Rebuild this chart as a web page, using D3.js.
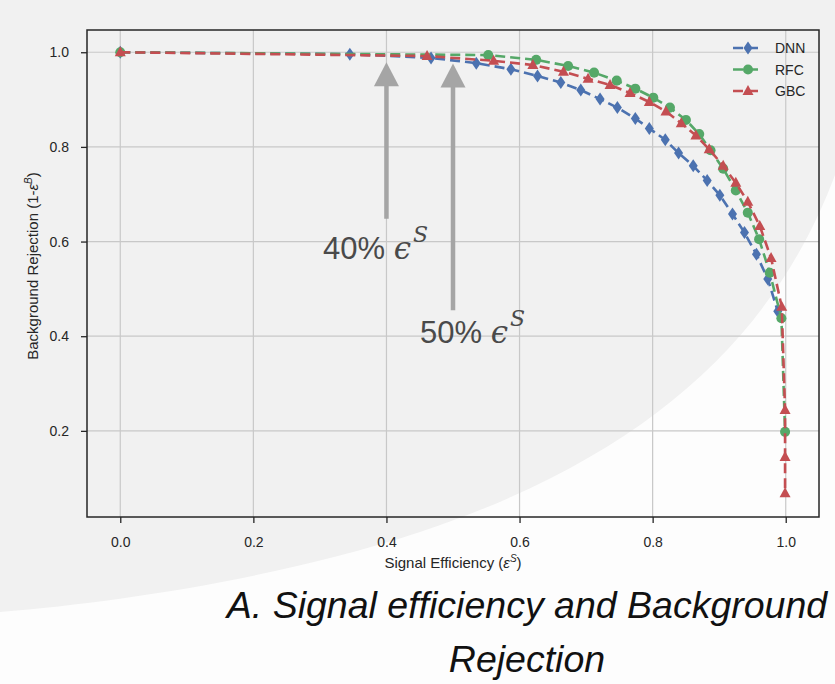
<!DOCTYPE html>
<html><head><meta charset="utf-8">
<script src="https://cdn.jsdelivr.net/npm/d3@7/dist/d3.min.js"></script>
<style>body{margin:0;background:#fff;} svg{display:block;}</style>
</head><body><svg id="c" width="835" height="684"></svg>
<script>
// ---- data ----
const xTicks = [0, 0.2, 0.4, 0.6, 0.8, 1.0];
const yTicks = [0.2, 0.4, 0.6, 0.8, 1.0];
const xTickLabels = ["0.0", "0.2", "0.4", "0.6", "0.8", "1.0"];
const yTickLabels = ["0.2", "0.4", "0.6", "0.8", "1.0"];
const seriesNames = ["DNN", "RFC", "GBC"];
const dnnX = [0, 0.345, 0.467, 0.535, 0.587, 0.627, 0.662, 0.692, 0.721, 0.747, 0.774, 0.795, 0.819, 0.839, 0.861, 0.882, 0.901, 0.920, 0.938, 0.956, 0.973, 0.988];
const dnnY = [1.0, 0.996, 0.988, 0.977, 0.964, 0.950, 0.936, 0.920, 0.901, 0.883, 0.860, 0.839, 0.815, 0.787, 0.760, 0.729, 0.698, 0.658, 0.619, 0.573, 0.521, 0.453];
const rfcX = [0, 0.553, 0.625, 0.673, 0.712, 0.746, 0.774, 0.801, 0.826, 0.850, 0.870, 0.887, 0.906, 0.925, 0.943, 0.960, 0.976, 0.9935, 0.999];
const rfcY = [1.0, 0.994, 0.984, 0.971, 0.957, 0.940, 0.923, 0.904, 0.883, 0.857, 0.827, 0.793, 0.754, 0.708, 0.661, 0.605, 0.534, 0.438, 0.198];
const gbcX = [0, 0.461, 0.561, 0.620, 0.666, 0.703, 0.736, 0.766, 0.795, 0.820, 0.843, 0.865, 0.885, 0.906, 0.925, 0.943, 0.961, 0.978, 0.994, 0.999, 0.999, 0.999];
const gbcY = [1.0, 0.992, 0.982, 0.973, 0.959, 0.944, 0.931, 0.914, 0.895, 0.875, 0.850, 0.824, 0.795, 0.760, 0.724, 0.684, 0.633, 0.565, 0.462, 0.244, 0.145, 0.068];
const arrowX = [0.4, 0.5];
const arrowTail = [0.648, 0.455];
const arrowTip = [0.979, 0.976];
const arrowLabels = ["40%", "50%"];

const colors = {DNN: "#4C72B0", RFC: "#55A868", GBC: "#C44E52"};
const svg = d3.select("#c");

// background (slide)
svg.append("rect").attr("width", 835).attr("height", 684).attr("fill", "#f1f1f1");
svg.append("path").attr("d", "M835,175 C775,335 650,455 420,532 C280,578 120,602 0,612 L0,684 L835,684 Z").attr("fill", "#fdfdfd");

const x = d3.scaleLinear().domain([-0.05, 1.05]).range([87, 819]);
const y = d3.scaleLinear().domain([0.018, 1.047]).range([517, 30]);

const font = "'Liberation Sans', Arial, Helvetica, sans-serif";

// grid
const g = svg.append("g");
g.selectAll(".gx").data(xTicks).join("line")
  .attr("x1", d => x(d)).attr("x2", d => x(d)).attr("y1", 30).attr("y2", 517)
  .attr("stroke", "#c8c8c8").attr("stroke-width", 1.2);
g.selectAll(".gy").data(yTicks).join("line")
  .attr("y1", d => y(d)).attr("y2", d => y(d)).attr("x1", 87).attr("x2", 819)
  .attr("stroke", "#c8c8c8").attr("stroke-width", 1.2);

// axes
const xAxis = d3.axisBottom(x).tickValues(xTicks).tickFormat((d, i) => xTickLabels[i]).tickSize(6).tickPadding(14);
const yAxis = d3.axisLeft(y).tickValues(yTicks).tickFormat((d, i) => yTickLabels[i]).tickSize(6).tickPadding(12);
const ax = svg.append("g").attr("transform", "translate(0,517)").call(xAxis);
const ay = svg.append("g").attr("transform", "translate(87,0)").call(yAxis);
[ax, ay].forEach(a => {
  a.select(".domain").remove();
  a.selectAll(".tick line").attr("stroke", "#262626").attr("stroke-width", 1.3);
  a.selectAll(".tick text").attr("fill", "#262626").style("font-family", font).style("font-size", "14px");
});

// frame
svg.append("rect").attr("x", 87).attr("y", 30).attr("width", 732).attr("height", 487)
  .attr("fill", "none").attr("stroke", "#262626").attr("stroke-width", 1.5);

// arrows
const arrowG = svg.append("g");
arrowX.forEach((ax_, i) => {
  const cx = x(ax_), tip = y(arrowTip[i]), tail = y(arrowTail[i]);
  arrowG.append("line").attr("x1", cx).attr("x2", cx).attr("y1", tail).attr("y2", tip + 22)
    .attr("stroke", "#a5a5a5").attr("stroke-width", 4.5);
  arrowG.append("path").attr("d", `M${cx},${tip} L${cx + 12.5},${tip + 24} L${cx - 12.5},${tip + 24} Z`).attr("fill", "#a5a5a5");
});

// arrow labels
const lab = [{t: arrowLabels[0], x: 323, y: 259}, {t: arrowLabels[1], x: 420, y: 343}];
lab.forEach(l => {
  const t = svg.append("text").attr("x", l.x).attr("y", l.y).attr("fill", "#4a4a4a")
    .style("font-family", font).style("font-size", "31px");
  t.append("tspan").text(l.t + " ");
  t.append("tspan").text("\u03F5").style("font-family", "'DejaVu Serif', serif").style("font-style", "italic");
  t.append("tspan").text("S").attr("dy", -17).attr("dx", 2).style("font-family", "'DejaVu Serif', serif").style("font-style", "italic").style("font-size", "22px");
});

// series
const series = [
  {name: "DNN", xs: dnnX, ys: dnnY, marker: "diamond"},
  {name: "RFC", xs: rfcX, ys: rfcY, marker: "circle"},
  {name: "GBC", xs: gbcX, ys: gbcY, marker: "triangle"}
];
function markerPath(m) {
  if (m === "diamond") return "M0,-6.5 L4.5,0 L0,6.5 L-4.5,0 Z";
  if (m === "triangle") return "M0,-6 L5.5,4 L-5.5,4 Z";
  return d3.symbol(d3.symbolCircle, 80)();
}
const line = d3.line().x(d => x(d[0])).y(d => y(d[1]));
series.forEach(s => {
  const pts = s.xs.map((v, i) => [v, s.ys[i]]);
  const gs = svg.append("g");
  gs.append("path").attr("d", line(pts)).attr("fill", "none").attr("stroke", colors[s.name])
    .attr("stroke-width", 2.6).attr("stroke-dasharray", "10,5");
  gs.selectAll("path.m").data(pts).join("path").attr("class", "m")
    .attr("d", markerPath(s.marker)).attr("transform", d => `translate(${x(d[0])},${y(d[1])})`)
    .attr("fill", colors[s.name]);
});

// legend
const lg = svg.append("g");
series.forEach((s, i) => {
  const yy = 48 + i * 21.5;
  lg.append("line").attr("x1", 733).attr("x2", 763).attr("y1", yy).attr("y2", yy)
    .attr("stroke", colors[s.name]).attr("stroke-width", 2.6).attr("stroke-dasharray", "10,5");
  lg.append("path").attr("d", markerPath(s.marker)).attr("transform", `translate(748,${yy})`).attr("fill", colors[s.name]);
  lg.append("text").attr("x", 775).attr("y", yy + 5).text(s.name).attr("fill", "#262626")
    .style("font-family", font).style("font-size", "14px");
});

// axis labels
const xl = svg.append("text").attr("x", x(0.5)).attr("y", 568).attr("text-anchor", "middle")
  .attr("fill", "#262626").style("font-family", font).style("font-size", "15px");
xl.append("tspan").text("Signal Efficiency (");
xl.append("tspan").text("\u03B5").style("font-style", "italic");
xl.append("tspan").text("S").attr("dy", -6).style("font-size", "10px").style("font-style", "italic");
xl.append("tspan").text(")").attr("dy", 6);

const yl = svg.append("text").attr("transform", "translate(38,266) rotate(-90)").attr("text-anchor", "middle")
  .attr("fill", "#262626").style("font-family", font).style("font-size", "15px");
yl.append("tspan").text("Background Rejection (1-");
yl.append("tspan").text("\u03B5").style("font-style", "italic");
yl.append("tspan").text("B").attr("dy", -6).style("font-size", "10px").style("font-style", "italic");
yl.append("tspan").text(")").attr("dy", 6);

// caption
const cap = ["A. Signal efficiency and Background", "Rejection"];
svg.selectAll("text.cap").data(cap).join("text").attr("class", "cap")
  .attr("x", 527).attr("y", (d, i) => 618 + i * 54).attr("text-anchor", "middle")
  .attr("fill", "#111").style("font-family", font).style("font-style", "italic").style("font-size", "37.5px")
  .text(d => d);
</script>
</body></html>
